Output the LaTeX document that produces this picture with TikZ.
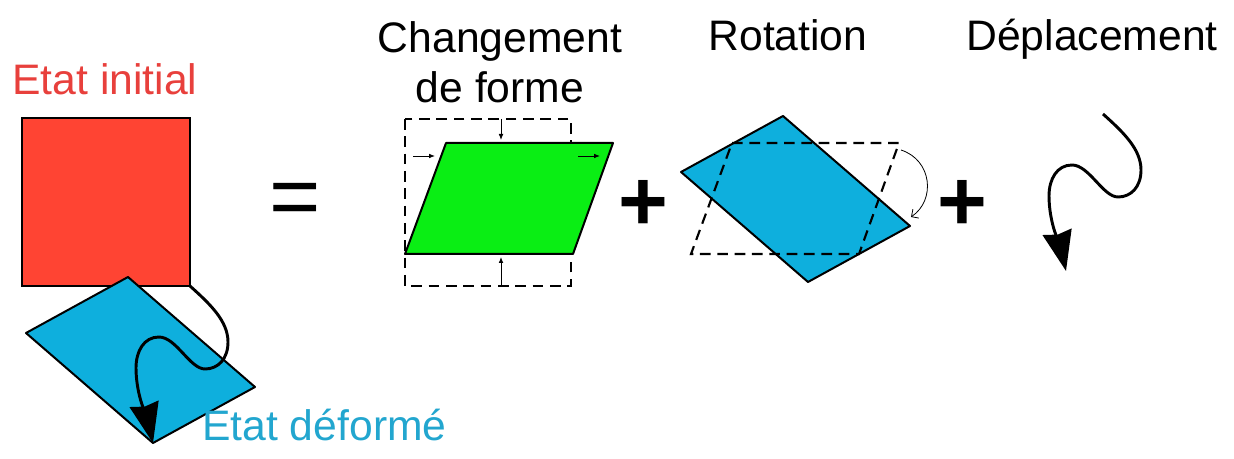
\documentclass[tikz,border=0pt]{standalone}
\usepackage{fontspec}
\setmainfont{Liberation Sans}
\usetikzlibrary{arrows.meta}

\definecolor{initred}{HTML}{FF4433}
\definecolor{initredtxt}{HTML}{E8403C}
\definecolor{defblue}{HTML}{0EAFDD}
\definecolor{defbluetxt}{HTML}{22A6CF}
\definecolor{shapegreen}{HTML}{0AEE14}

\begin{document}
\begin{tikzpicture}[
  x=0.75pt, y=-0.75pt,
  capt/.style={font=\fontsize{32}{38}\selectfont, anchor=base, inner sep=0pt, align=center},
  sign/.style={font=\fontsize{66}{66}\selectfont, inner sep=0pt},
  sheet/.style={draw=black, line width=1.5pt, line join=round},
  ghost/.style={draw=black, line width=1.6pt, dash pattern=on 8pt off 5pt},
  hint/.style={-{Latex[length=4.5pt,width=3.5pt]}, line width=0.6pt},
  move/.style={-{Stealth[length=30pt,width=22pt,inset=2pt]}, line width=2.2pt},
  twist/.pic={
    \draw[move] (0,0) .. controls (20,18) and (38,35) .. (38,56)
      .. controls (38,73) and (28,83) .. (15,83)
      .. controls (0,83) and (-14,51) .. (-31,51)
      .. controls (-46,51) and (-54,65) .. (-54,82)
      .. controls (-54,110) and (-42,135) .. (-37,157);
  },
]
\useasboundingbox (0,0) rectangle (1234,459);

% ---- left: initial and deformed state ----
\fill[initred, draw=black, line width=1.5pt] (22,118) rectangle (190,286);
\node[capt, text=initredtxt] (init) at (105,95) {Etat initial};
\path[sheet, fill=defblue] (128,277) -- (255,387) -- (153,443) -- (26,333) -- cycle;
\pic at (190,286) {twist};
\node[capt, anchor=base west, text=defbluetxt] (def) at (202,440) {Etat déformé};

\node[sign] (eq) at (295,205) {=};

% ---- change of shape ----
\node[capt] (shape) at (500,103) {Changement\\de forme};
\draw[ghost] (405,119) rectangle (571,286);
\path[sheet, fill=shapegreen] (446,143) -- (613,143) -- (573,254) -- (405,254) -- cycle;
\draw[hint] (501,119) -- (501,140);
\draw[hint] (501,286) -- (501,257);
\draw[hint] (413,156) -- (435,156);
\draw[hint] (578,156) -- (600,156);

\node[sign, font=\fontsize{64}{64}\selectfont\bfseries] (plusA) at (643,205) {+};

% ---- rotation ----
\node[capt] (rot) at (788,51) {Rotation};
\path[sheet, fill=defblue] (783,116) -- (910,226) -- (808,282) -- (681,172) -- cycle;
\draw[ghost] (732,143) -- (899,143) -- (859,254) -- (691,254) -- cycle;
\draw[-{Straight Barb[length=4pt]}, line width=0.6pt] (901,150) .. controls (932,160) and (936,200) .. (911,217);

\node[sign, font=\fontsize{64}{64}\selectfont\bfseries] (plusB) at (962,205) {+};

% ---- displacement ----
\node[capt] (move) at (1092,51) {Déplacement};
\pic at (1103,114) {twist};
\end{tikzpicture}
\end{document}
